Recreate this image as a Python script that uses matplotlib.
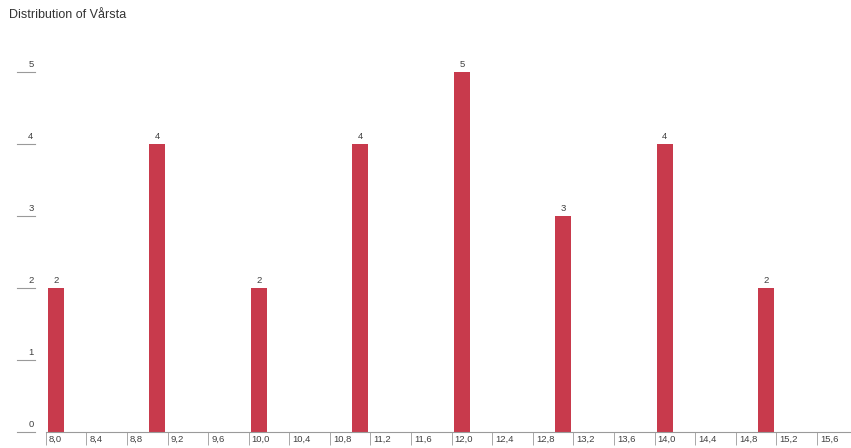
import numpy as np
import matplotlib.pyplot as plt
from matplotlib.transforms import blended_transform_factory

# values
values = [8, 9, 10, 11, 12, 13, 14, 15]
counts = [2, 4, 2, 4, 5, 3, 4, 2]
x_tick_labels = ['8,0', '8,4', '8,8', '9,2', '9,6', '10,0', '10,4', '10,8', '11,2', '11,6',
                 '12,0', '12,4', '12,8', '13,2', '13,6', '14,0', '14,4', '14,8', '15,2', '15,6']
y_ticks = [0, 1, 2, 3, 4, 5]
title = 'Distribution of Vårsta'

plt.rcParams['font.family'] = ['Liberation Sans', 'DejaVu Sans']

W, H = 851, 448
fig = plt.figure(figsize=(W / 100, H / 100), dpi=100)
ax = fig.add_axes([45.7 / W, (H - 432) / H, 1 - 45.7 / W, (432 - 36) / H])

bar_color = '#c83a4c'
text_color = '#404040'
line_color = '#9a9a9a'
small = 6.8

xs = np.array(values) + 0.1
ax.bar(xs, counts, width=0.16, color=bar_color, zorder=2)
for x, c in zip(xs, counts):
    ax.annotate(str(c), xy=(x, c), xytext=(0, 3), textcoords='offset pixels',
                ha='center', va='bottom', fontsize=small, color=text_color)

ax.set_xlim(8.0, 8.0 + (W - 45.7) / 101.5)
ax.set_ylim(0, 5.5)

for s in ['left', 'right', 'top']:
    ax.spines[s].set_visible(False)
ax.spines['bottom'].set_color(line_color)
ax.spines['bottom'].set_linewidth(0.8)

# x ticks: short lines downward, label to the right of each tick
x_ticks = [float(t.replace(',', '.')) for t in x_tick_labels]
ax.set_xticks(x_ticks)
ax.set_xticklabels([])
ax.tick_params(axis='x', direction='out', length=9, width=0.6, color=line_color)
for t, lab in zip(x_ticks, x_tick_labels):
    ax.annotate(lab, xy=(t, 0), xycoords=('data', 'axes fraction'), xytext=(3, -7),
                textcoords='offset pixels', ha='left', va='center',
                fontsize=small, color=text_color, annotation_clip=False)

# y ticks: detached short lines to the left, label sitting on the line
ax.set_yticks([])
tr = blended_transform_factory(fig.transFigure, ax.transData)
for y in y_ticks:
    ax.plot([17 / W, 35 / W], [y, y], transform=tr, color=line_color, lw=0.8, clip_on=False)
    ax.annotate(str(y), xy=(33.5 / W, y), xycoords=tr, xytext=(0, 3),
                textcoords='offset pixels', ha='right', va='bottom',
                fontsize=small, color=text_color, annotation_clip=False)

fig.text(9 / W, 1 - 18.5 / H, title, fontsize=9, color='#333333', ha='left', va='baseline')

fig.savefig('out.png', dpi=100, facecolor='white')
